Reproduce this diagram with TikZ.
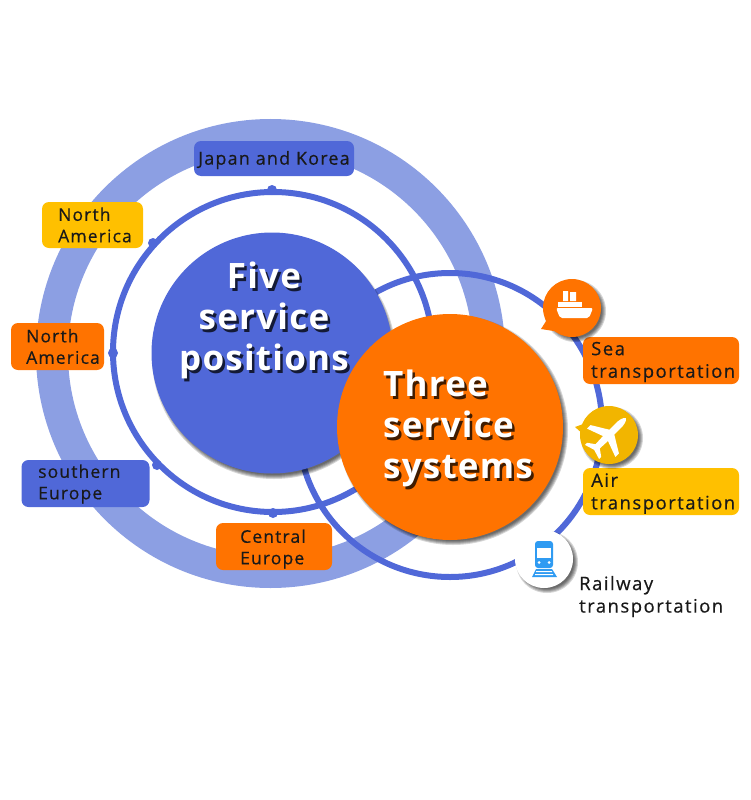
\documentclass[tikz,border=0pt]{standalone}
\usepackage{fontspec}
\setmainfont{Open Sans}
\newfontfamily\titlefont[LetterSpace=3.5,BoldFont={Open Sans Bold}]{Open Sans}
\newfontfamily\labelfont[LetterSpace=6.5,FakeBold=0.4]{Open Sans}
\newfontfamily\widefont[LetterSpace=8,FakeBold=0.4]{Open Sans}
\usetikzlibrary{positioning}
\definecolor{ringblue}{HTML}{8C9FE3}
\definecolor{lineblue}{HTML}{5068D8}
\definecolor{mainorange}{HTML}{FF7300}
\definecolor{mainyellow}{HTML}{FFC000}
\definecolor{planeyellow}{HTML}{F2B500}
\definecolor{trainblue}{HTML}{2F9BF2}
\newcommand{\softshadow}[3]{%
  \foreach \d in {0,1,...,4}{\fill[black,opacity=0.16] (#1,#2) circle ({#3-\d+2});}}
\tikzset{labelbox/.style={rounded corners=7pt,inner sep=0pt},
  labeltext/.style={align=left,inner sep=0pt,font=\labelfont\fontsize{17.5}{21.5}\selectfont,text=black!90},
  widetext/.style={labeltext,font=\widefont\fontsize{18.5}{22.5}\selectfont},
  titletext/.style={align=left,inner sep=0pt,font=\titlefont\bfseries\fontsize{35}{41}\selectfont,text=white},
  titleshade/.style={titletext,text=black,opacity=0.75},
  bump/.style={fill=lineblue}}
\begin{document}
\begin{tikzpicture}[x=1pt,y=-1pt]
\useasboundingbox (0,0) rectangle (750,800);
% rings
\draw[ringblue,line width=32pt] (270.5,353.5) circle (218.5);
\draw[lineblue,line width=6pt] (273,352) circle (160);
\foreach \bx/\by in {272/190,153/243,113/353,157/465,273/513}
  \fill[bump] (\bx,\by) circle (5);
\draw[lineblue,line width=6pt] (450,425) circle (152);
% main circles
\softshadow{274}{357}{120}
\fill[lineblue] (272,353) circle (120.5);
\softshadow{453}{430}{113}
\fill[mainorange] (450,427) circle (113);
\node[titleshade,align=center] (fiveshade) at (266.5,323) {Five\\service\\positions};
\node[titletext,align=center] (five) at (264,320) {Five\\service\\positions};
\node[titleshade,anchor=west] (threeshade) at (385.5,431) {Three\\service\\systems};
\node[titletext,anchor=west] (three) at (383,428) {Three\\service\\systems};
% left labels
\node[labelbox,fill=lineblue,minimum width=160pt,minimum height=35pt] (japanbox) at (274,158.5) {};
\node[labeltext,font=\labelfont\fontsize{18}{21}\selectfont] (japan) at (274,160) {Japan and Korea};
\node[labelbox,fill=mainyellow,minimum width=101pt,minimum height=46pt] (northabox) at (92.5,225) {};
\node[labeltext,anchor=west] (northa) at (58,225) {North\\America};
\node[labelbox,fill=mainorange,minimum width=93pt,minimum height=47pt] (northbbox) at (57.5,346.5) {};
\node[labeltext,anchor=west] (northb) at (26,346.5) {North\\America};
\node[labelbox,fill=lineblue,minimum width=128pt,minimum height=47pt] (southbox) at (85.5,483.5) {};
\node[labeltext,anchor=west] (south) at (38,484) {southern\\Europe};
\node[labelbox,fill=mainorange,minimum width=116pt,minimum height=47pt] (centralbox) at (274,546.5) {};
\node[labeltext,anchor=west] (central) at (240,549) {Central\\Europe};
% right labels
\node[labelbox,fill=mainorange,minimum width=156pt,minimum height=47pt] (seabox) at (661,360.5) {};
\node[widetext,anchor=west] (sea) at (591,362) {Sea\\transportation};
\node[labelbox,fill=mainyellow,minimum width=156pt,minimum height=47pt] (airbox) at (661,491.5) {};
\node[widetext,anchor=west] (air) at (591,493.5) {Air\\transportation};
\node[widetext,anchor=west] (rail) at (579,596.5) {Railway\\transportation};
% ship
\softshadow{575}{311}{29}
\fill[mainorange] (572,308) circle (29);
\fill[mainorange] (541,329) -- (548,318) -- (560,332) -- cycle;
\fill[white] (563,291) rectangle (568,301) (570,292) rectangle (576,301);
\fill[white] (558,302) rectangle (582,307);
\fill[white,rounded corners=2pt] (556,308) -- (593,308) -- (589,318) -- (560,318) -- cycle;
% plane
\softshadow{612}{438}{29}
\fill[planeyellow] (609,435) circle (29);
\fill[planeyellow] (575,427) -- (586,423) -- (584,435) -- cycle;
\begin{scope}[shift={(609,435)},rotate=45]
\fill[white] (24,0) .. controls (22,-3) and (17,-3.5) .. (13,-3.5) -- (4,-3.5) -- (-6,-20) -- (-11,-20) -- (-5,-3.5)
  -- (-16,-3) -- (-21,-10) -- (-24,-10) -- (-21,0) -- (-24,10) -- (-21,10) -- (-16,3) -- (-5,3.5)
  -- (-11,20) -- (-6,20) -- (4,3.5) -- (13,3.5) .. controls (17,3.5) and (22,3) .. (24,0) -- cycle;
\end{scope}
% train
\softshadow{547}{562}{29}
\fill[white] (544,559) circle (29);
\fill[white] (532,529) -- (540,531) -- (530,540) -- cycle;
\fill[trainblue,rounded corners=3pt] (535,541) rectangle (553,568);
\fill[white] (537,548) rectangle (551,558);
\fill[white] (539,562.5) circle (1.5) (549,562.5) circle (1.5);
\fill[trainblue] (536,569) -- (552,569) -- (557,577) -- (532,577) -- cycle;
\fill[white] (536,571) rectangle (552,572) (535,574) rectangle (553,575);
\end{tikzpicture}
\end{document}
